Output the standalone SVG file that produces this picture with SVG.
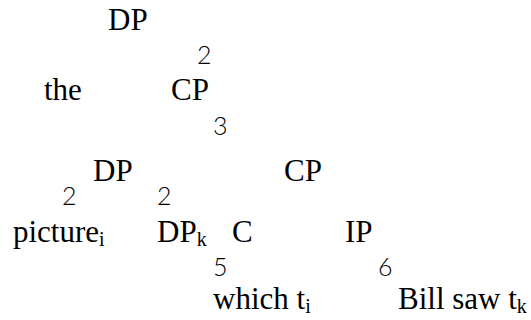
<svg xmlns="http://www.w3.org/2000/svg" width="531" height="320" viewBox="0 0 531 320">
  <style>
    .lbl { font-family: "Liberation Serif", "Times New Roman", serif; font-size: 31px; fill: #000; }
    .sub { font-size: 20px; }
    .br { font-family: "Lato", "Open Sans", sans-serif; font-weight: 300; font-size: 25px; fill: #000; }
  </style>
  <rect width="531" height="320" fill="#fff"/>

  <!-- branch glyphs -->
  <g id="connectors">
    <text class="br" x="197" y="64">2</text>
    <text class="br" x="213" y="135">3</text>
    <text class="br" x="62" y="205">2</text>
    <text class="br" x="157" y="205">2</text>
    <text class="br" x="213" y="276">5</text>
    <text class="br" x="378" y="276">6</text>
  </g>

  <g id="dp-root"><text class="lbl" x="108" y="30">DP</text></g>
  <g id="the"><text class="lbl" x="44" y="100">the</text></g>
  <g id="cp-upper"><text class="lbl" x="171" y="100">CP</text></g>
  <g id="dp-spec"><text class="lbl" x="93" y="181">DP</text></g>
  <g id="cp-lower"><text class="lbl" x="284" y="181">CP</text></g>
  <g id="picture"><text class="lbl" x="13" y="242">picture<tspan class="sub" dy="4">i</tspan></text></g>
  <g id="dp-k"><text class="lbl" x="157" y="242">DP<tspan class="sub" dy="4">k</tspan></text></g>
  <g id="c-head"><text class="lbl" x="232" y="242">C</text></g>
  <g id="ip"><text class="lbl" x="345" y="242">IP</text></g>
  <g id="which"><text class="lbl" x="213" y="309">which t<tspan class="sub" dy="4">i</tspan></text></g>
  <g id="bill-saw"><text class="lbl" x="398" y="309">Bill saw t<tspan class="sub" dy="4">k</tspan></text></g>
</svg>
